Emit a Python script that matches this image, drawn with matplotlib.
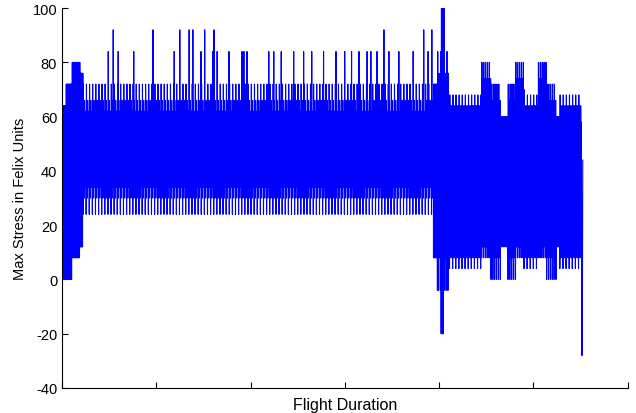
import numpy as np
import matplotlib.pyplot as plt

# stretches of the record and the levels the stress swings between in each
seg_start = [0, 4.2, 10.6, 19.1, 22.3, 394, 397.5, 411, 445, 455, 465, 473, 481, 490, 505, 514, 524, 528]
seg_end = [4.2, 10.6, 19.1, 22.3, 394, 397.5, 411, 445, 455, 465, 473, 481, 490, 505, 514, 524, 528, 551]
seg_lows = [[0, 4], [0], [8], [12], [24, 40, 30, 44, 34], [8], [8, -4, 8, -4, 12], [4, 8, 10, 8, 12],
            [8, 16, 12], [0, 8, 16], [12, 20], [0, 8, 16], [8, 16, 12], [4, 8, 10, 8, 12],
            [8, 16, 12], [0, 8, 16], [12, 20], [4, 8, 10, 8, 12]]
seg_highs = [[64], [72], [80], [76], [72, 58, 66, 54, 62], [72], [72, 84, 72, 76, 68],
             [68, 64, 60, 64, 58], [80, 70, 74], [72, 62, 66], [60, 54], [72, 62, 66], [80, 70, 74],
             [68, 64, 60, 64, 58], [80, 70, 74], [72, 62, 66], [60, 54], [68, 64, 60, 64, 58]]

# isolated peaks above the band
spike_x = [54.1, 96.5, 125.1, 134.6, 138.9, 151.6, 161.1, 341.4, 383.8, 392.2,
           48.8, 59.4, 76.3, 118.7, 147.4, 160.0, 164.3, 177.0, 190.8, 192.9, 196.1, 219.4,
           224.7, 232.2, 246.0, 256.5, 265.0, 277.7, 290.5, 300.0, 307.4, 314.9, 323.3,
           327.6, 333.9, 346.7, 357.3, 372.1, 388.0, 402.5, 403.3, 404.1, 404.9]
spike_val = [92, 92, 92, 92, 92, 92, 92, 92, 92, 92,
             84, 84, 84, 84, 84, 84, 84, 84, 84, 84, 84, 84,
             84, 84, 84, 84, 84, 84, 84, 84, 84, 84, 84,
             84, 84, 84, 84, 84, 84, 100, 100, 100, 100]
dip_x = [402.4, 403.2, 404.0]
dip_val = [-20, -20, -20]

tail_x = [551.3, 551.8, 552.3]
tail_y = [-28, -28, 44]

step = 0.33
xs, ys, is_high = [], [], []
for s, e, lo, hi in zip(seg_start, seg_end, seg_lows, seg_highs):
    k = 0
    x = s
    while x < e:
        if k % 2 == 0:
            ys.append(lo[(k // 2) % len(lo)])
            is_high.append(False)
        else:
            ys.append(hi[(k // 2) % len(hi)])
            is_high.append(True)
        xs.append(x)
        x += step
        k += 1

xs = np.array(xs)
ys = np.array(ys, dtype=float)
is_high = np.array(is_high)

high_idx = np.where(is_high)[0]
low_idx = np.where(~is_high)[0]
for sx, sv in zip(spike_x, spike_val):
    i = high_idx[np.argmin(np.abs(xs[high_idx] - sx))]
    ys[i] = sv
for sx, sv in zip(dip_x, dip_val):
    i = low_idx[np.argmin(np.abs(xs[low_idx] - sx))]
    ys[i] = sv

xs = np.concatenate([xs, tail_x])
ys = np.concatenate([ys, tail_y])

plt.rcParams['font.family'] = ['Liberation Sans', 'DejaVu Sans']
plt.rcParams['axes.unicode_minus'] = False
fig = plt.figure(figsize=(6.36, 4.14), dpi=100)
ax = fig.add_axes([0.0975, 0.0604, 0.8895, 0.9176])
ax.plot(xs, ys, color='#0000ff', lw=0.8)

ax.set_xlim(0, 600)
ax.set_ylim(-40, 100)
ax.set_xticks(np.arange(0, 601, 100))
ax.set_xticklabels([])
ax.set_yticks(np.arange(-40, 101, 20))
ax.tick_params(direction='in', length=4, labelsize=10.5, width=0.8)
ax.spines['top'].set_visible(False)
ax.spines['right'].set_visible(False)
ax.set_xlabel('Flight Duration', fontsize=11.5, labelpad=3)
ax.set_ylabel('Max Stress in Felix Units', fontsize=10.5, labelpad=4)

fig.savefig('out.png', dpi=100)
